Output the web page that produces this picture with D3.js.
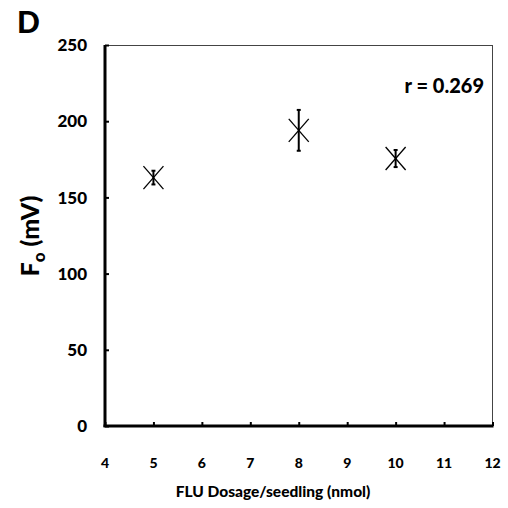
<!DOCTYPE html>
<html>
<head>
<meta charset="utf-8">
<script src="https://cdn.jsdelivr.net/npm/d3@7"></script>
<style>
  html, body { margin: 0; padding: 0; background: #fff; }
  svg { display: block; }
  text { font-family: Lato, "Open Sans", "Liberation Sans", sans-serif; font-weight: 900; fill: #000; }
</style>
</head>
<body>
<svg id="chart" width="508" height="508"></svg>
<script>
// FLU dosage per seedling (nmol) vs minimal fluorescence Fo (mV)
const dosage = [5, 8, 10];
const foMean = [163, 194, 175.5];
const foErr = [4.5, 13.4, 5.6];
const xTicks = [4, 5, 6, 7, 8, 9, 10, 11, 12];
const yTicks = [0, 50, 100, 150, 200, 250];
const rLabel = "r = 0.269";

const svg = d3.select("#chart");
const m = { left: 105, right: 492.5, top: 45, bottom: 426 };

const x = d3.scaleLinear().domain([4, 12]).range([m.left, m.right]);
const y = d3.scaleLinear().domain([0, 250]).range([m.bottom, m.top]);

// thin frame on top and right
svg.append("line").attr("x1", m.left).attr("x2", m.right).attr("y1", m.top + 0.5).attr("y2", m.top + 0.5)
  .attr("stroke", "#444").attr("stroke-width", 1);
svg.append("line").attr("x1", m.right).attr("x2", m.right).attr("y1", m.top).attr("y2", m.bottom)
  .attr("stroke", "#444").attr("stroke-width", 1);

// y axis
const yAxis = svg.append("g").attr("transform", `translate(${m.left},0)`)
  .call(d3.axisRight(y).tickValues(yTicks).tickSize(4).tickFormat(""));
yAxis.select(".domain").attr("stroke-width", 3).attr("d", `M0,${m.top}V${m.bottom + 1}`);
yAxis.selectAll(".tick line").attr("stroke-width", 2);
svg.append("g").selectAll("text").data(yTicks).join("text")
  .attr("x", 87).attr("y", d => y(d)).attr("dy", "0.36em")
  .attr("text-anchor", "end").attr("font-size", 17).text(d => d);

// x axis
const xAxis = svg.append("g").attr("transform", `translate(0,${m.bottom})`)
  .call(d3.axisTop(x).tickValues(xTicks).tickSize(4).tickFormat(""));
xAxis.select(".domain").attr("stroke-width", 3).attr("d", `M${m.left - 1.5},0H${m.right + 1}`);
xAxis.selectAll(".tick line").attr("stroke-width", 2);
svg.append("g").selectAll("text").data(xTicks).join("text")
  .attr("x", d => x(d)).attr("y", 463).attr("dy", "0.36em")
  .attr("text-anchor", "middle").attr("font-size", 14).text(d => d);

// axis titles
svg.append("text").attr("x", 273).attr("y", 497).attr("text-anchor", "middle")
  .attr("font-size", 15.5).text("FLU Dosage/seedling (nmol)");
const yt = svg.append("text").attr("transform", "translate(39,236) rotate(-90)")
  .attr("text-anchor", "middle").attr("font-size", 25);
yt.append("tspan").text("F");
yt.append("tspan").attr("font-size", 17).attr("dy", 6).text("o");
yt.append("tspan").attr("dy", -6).text(" (mV)");

// panel letter
svg.append("text").attr("x", 17).attr("y", 33).attr("font-size", 30).text("D");

// correlation label
svg.append("text").attr("x", 484).attr("y", 93).attr("text-anchor", "end")
  .attr("font-size", 20).text(rLabel);

// data: error bars and x markers
const pts = dosage.map((d, i) => ({ x: d, y: foMean[i], e: foErr[i] }));
const g = svg.append("g");
pts.forEach(p => {
  const cx = x(p.x), cy = y(p.y), y0 = y(p.y - p.e), y1 = y(p.y + p.e);
  g.append("line").attr("x1", cx).attr("x2", cx).attr("y1", y0).attr("y2", y1)
    .attr("stroke", "#000").attr("stroke-width", 2);
  [y0, y1].forEach(yy => g.append("line").attr("x1", cx - 2).attr("x2", cx + 2)
    .attr("y1", yy).attr("y2", yy).attr("stroke", "#000").attr("stroke-width", 2));
  const hw = 10, hh = 11.5;
  g.append("line").attr("x1", cx - hw).attr("y1", cy - hh).attr("x2", cx + hw).attr("y2", cy + hh)
    .attr("stroke", "#000").attr("stroke-width", 1.3);
  g.append("line").attr("x1", cx - hw).attr("y1", cy + hh).attr("x2", cx + hw).attr("y2", cy - hh)
    .attr("stroke", "#000").attr("stroke-width", 1.3);
});
</script>
</body>
</html>
